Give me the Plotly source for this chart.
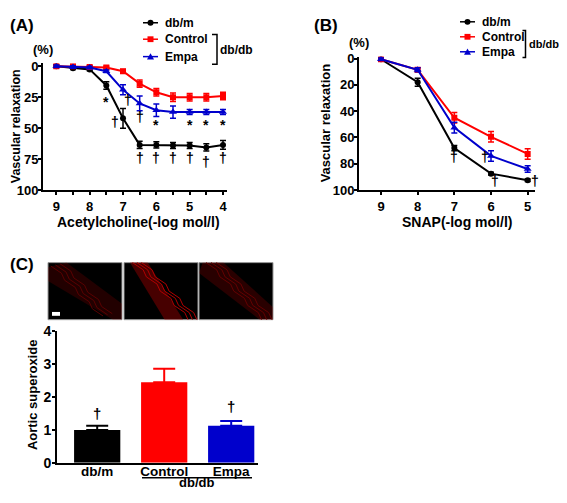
import plotly.graph_objects as go

# the page keeps an 8px body margin round the figure, so the figure is
# drawn 16px smaller and reference pixel positions are shifted by 8px
OFF = 8
FW, FH = 567 - 2 * OFF, 503 - 2 * OFF


def px(x):
    return (x - OFF) / FW


def py(y):
    return 1 - (y - OFF) / FH


# ---- data ----
# (A) acetylcholine
ach_dose = [9, 8.5, 8, 7.5, 7, 6.5, 6, 5.5, 5, 4.5, 4]
ach_dbm = [0, 1.5, 2.5, 15.5, 42, 63.5, 63.5, 64, 64, 65.5, 63.5]
ach_dbm_err = [1, 1, 1, 3, 8, 3, 2.5, 2.5, 2.5, 3, 3.5]
ach_ctrl = [0, 0, 0.5, 1, 4, 14, 21, 25, 25, 25, 24]
ach_ctrl_err = [1, 1, 1, 1, 1.5, 3, 3, 3.5, 3, 3, 3]
ach_empa = [0, 0.5, 1, 4, 19, 30, 35.5, 37, 37, 37, 37]
ach_empa_err = [1, 1, 1, 1, 4, 6, 5, 5, 2, 2, 2]
ach_ticks = ["9", "", "8", "", "7", "", "6", "", "5", "", "4"]
ach_marks = [(7.5, 28.5, "*"), (7.23, 45, "†"), (6.85, 27, "†"), (6.5, 41, "†"),
             (6, 47.5, "*"), (5, 47.5, "*"), (4.5, 47.5, "*"), (4, 47.5, "*"),
             (6.5, 74, "†"), (6, 74, "†"), (5.5, 74, "†"), (5, 74, "†"),
             (4.5, 77, "†"), (4, 74, "†")]

# (B) SNAP
snap_dose = [9, 8, 7, 6, 5]
snap_dbm = [0.5, 18, 68, 87.5, 92.5]
snap_dbm_err = [1, 3, 2, 1, 1]
snap_ctrl = [0.5, 8.5, 45, 59.5, 72.5]
snap_ctrl_err = [1, 1.5, 4, 4, 4]
snap_empa = [0.5, 8.5, 52.5, 74, 84]
snap_empa_err = [1, 1.5, 4, 4, 2.5]
snap_marks = [(7, 75, "†"), (6.17, 75, "†"), (5.9, 93, "†"), (4.8, 93, "†")]

# (C) aortic superoxide
groups = ["db/m", "Control", "Empa"]
superoxide = [1.0, 2.45, 1.13]
superoxide_err = [0.13, 0.41, 0.14]
bar_marks = [("db/m", 1.5, "†"), ("Empa", 1.7, "†")]

BLACK, RED, BLUE = "#000000", "#ff0000", "#0000cc"
series_style = [("db/m", BLACK, "circle", 6), ("Control", RED, "square", 6),
                ("Empa", BLUE, "triangle-up", 7)]

fig = go.Figure()

for (name, col, sym, ms), y, e in zip(series_style, [ach_dbm, ach_ctrl, ach_empa],
                                      [ach_dbm_err, ach_ctrl_err, ach_empa_err]):
    fig.add_trace(go.Scatter(
        x=ach_dose, y=y, name=name, mode="lines+markers",
        line=dict(color=col, width=2), marker=dict(color=col, symbol=sym, size=ms),
        error_y=dict(type="data", array=e, color=col, thickness=1.5, width=3),
        xaxis="x", yaxis="y"))

for (name, col, sym, ms), y, e in zip(series_style, [snap_dbm, snap_ctrl, snap_empa],
                                      [snap_dbm_err, snap_ctrl_err, snap_empa_err]):
    fig.add_trace(go.Scatter(
        x=snap_dose, y=y, name=name, mode="lines+markers",
        line=dict(color=col, width=2), marker=dict(color=col, symbol=sym, size=ms),
        error_y=dict(type="data", array=e, color=col, thickness=1.5, width=3),
        xaxis="x2", yaxis="y2"))

for g, v, e, col in zip(groups, superoxide, superoxide_err, [BLACK, RED, BLUE]):
    fig.add_trace(go.Bar(
        x=[g], y=[v], width=0.69, marker=dict(color=col, line_width=0),
        error_y=dict(type="data", array=[e], arrayminus=[0], symmetric=False,
                     color=col, thickness=2, width=11),
        xaxis="x3", yaxis="y3"))

axis_common = dict(showline=True, linecolor="black", linewidth=2, ticks="outside",
                   ticklen=3, tickwidth=2, tickcolor="black", showgrid=False,
                   zeroline=False, tickfont=dict(size=13))

fig.update_layout(
    width=FW, height=FH, margin=dict(l=0, r=0, t=0, b=0),
    paper_bgcolor="white", plot_bgcolor="white",
    font=dict(family="Liberation Sans", size=12, color="black", weight="bold"),
    barmode="overlay", showlegend=False,
    xaxis=dict(axis_common, domain=[px(43), px(227)], range=[9.4, 3.88],
               tickvals=ach_dose, ticktext=ach_ticks, anchor="y"),
    yaxis=dict(axis_common, domain=[py(188), py(56.8)], range=[100, -2.5],
               tickvals=[0, 25, 50, 75, 100], ticklabelstandoff=-3, anchor="x"),
    xaxis2=dict(axis_common, domain=[px(359), px(535)], range=[9.6, 4.8],
                tickvals=snap_dose, anchor="y2"),
    yaxis2=dict(axis_common, domain=[py(188), py(50)], range=[100, -1.5],
                tickvals=[0, 20, 40, 60, 80, 100], ticklabelstandoff=-3, anchor="x2"),
    xaxis3=dict(axis_common, domain=[px(57), px(258)], range=[-0.6, 2.4],
                ticks="", tickfont=dict(size=13.5), ticklabelstandoff=-5,
                anchor="y3"),
    yaxis3=dict(axis_common, domain=[py(470), py(334)], range=[0, 4],
                tickvals=[0, 1, 2, 3, 4], tickfont=dict(size=14),
                ticklabelstandoff=-2, anchor="x3"),
)

ann = []
for x, y, t in ach_marks:
    ann.append(dict(x=x, y=y, text=t, xref="x", yref="y", showarrow=False, font=dict(size=14)))
for x, y, t in snap_marks:
    ann.append(dict(x=x, y=y, text=t, xref="x2", yref="y2", showarrow=False, font=dict(size=14)))
for x, y, t in bar_marks:
    ann.append(dict(x=x, y=y, text=t, xref="x3", yref="y3", showarrow=False, font=dict(size=15)))

# free texts: text, x, y (reference pixels), size, x anchor, angle
labels = [("(A)", 8, 18, 17, "left", 0), ("(B)", 326, 18, 17, "center", 0),
          ("(C)", 8, 265, 17, "left", 0),
          ("(%)", 43, 43, 13, "center", 0), ("(%)", 359, 35, 13, "center", 0),
          ("Vascular relaxation", 16, 122, 12.5, "center", -90),
          ("Vascular relaxation", 325, 119, 13, "center", -90),
          ("Aortic superoxide", 32, 400, 13, "center", -90),
          ("Acetylcholine(-log mol/l)", 138, 221, 14, "center", 0),
          ("SNAP(-log mol/l)", 457, 221, 14, "center", 0),
          ("db/db", 218, 43, 12, "left", 0), ("db/db", 527, 37, 11, "left", 0),
          ("db/db", 196, 490.5, 13, "center", 0)]
for t, x, y, s, xa, ang in labels:
    ann.append(dict(x=px(x), y=py(y), text=t, xref="paper", yref="paper",
                    xanchor=xa, yanchor="middle", textangle=ang,
                    showarrow=False, font=dict(size=s)))

shapes = []

# hand-made legends (line + marker + label) and db/db brackets
legend_rows = [(143, 163, [15, 32, 50], 217, 5, 27, 58),
               (460, 480, [14, 29.5, 45], 525.5, 3, 23, 51)]
for lx, tx, rows, bx, stub, by0, by1 in legend_rows:
    for (name, col, sym, ms), ry in zip(series_style, rows):
        shapes.append(dict(type="line", xref="paper", yref="paper",
                           x0=px(lx), x1=px(lx + 15), y0=py(ry), y1=py(ry),
                           line=dict(color=col, width=1.5)))
        cx = lx + 7.5
        if sym == "circle":
            shapes.append(dict(type="circle", xref="paper", yref="paper",
                               x0=px(cx - 3), x1=px(cx + 3), y0=py(ry + 3), y1=py(ry - 3),
                               fillcolor=col, line=dict(width=0)))
        elif sym == "square":
            shapes.append(dict(type="rect", xref="paper", yref="paper",
                               x0=px(cx - 3), x1=px(cx + 3), y0=py(ry + 3), y1=py(ry - 3),
                               fillcolor=col, line=dict(width=0)))
        else:
            shapes.append(dict(type="path", xref="paper", yref="paper",
                               path=f"M {px(cx - 3.5)},{py(ry + 3)} L {px(cx + 3.5)},{py(ry + 3)} "
                                    f"L {px(cx)},{py(ry - 3.5)} Z",
                               fillcolor=col, line=dict(width=0)))
        ann.append(dict(x=px(tx), y=py(ry), text=name, xref="paper", yref="paper",
                        xanchor="left", yanchor="middle", showarrow=False,
                        font=dict(size=12)))
    shapes.append(dict(type="path", xref="paper", yref="paper",
                       path=f"M {px(bx - stub)},{py(by0)} L {px(bx)},{py(by0)} "
                            f"L {px(bx)},{py(by1)} L {px(bx - stub)},{py(by1)}",
                       line=dict(color="black", width=1.5)))

# underline under Control / Empa
shapes.append(dict(type="line", xref="paper", yref="paper", x0=px(142), x1=px(252),
                   y0=py(485.5), y1=py(485.5), line=dict(color="black", width=1.5)))

# micrographs (decorative): dark frames with a faint red vessel wall band
panels = [(48, 122, 0.2, "#5a0000",
           [(0, 0.08), (0.25, 0), (1, 0.72), (1, 1), (0.88, 1), (0, 0.32)]),
          (124, 198, 0.42, "#b00000", [(0.08, 0), (0.32, 0), (0.8, 1), (0.55, 1)]),
          (199, 273, 0.24, "#640000",
           [(0.05, 0), (0.33, 0), (1, 0.78), (1, 1), (0.82, 1), (0, 0.18)])]
top, bot = 263, 322
for x0, x1, op, fib, poly in panels:
    shapes.append(dict(type="rect", xref="paper", yref="paper", x0=px(x0), x1=px(x1),
                       y0=py(bot), y1=py(top), fillcolor="black",
                       line=dict(color="#9a9a9a", width=1)))
    pts = [(px(x0 + u * (x1 - x0)), py(top + v * (bot - top))) for u, v in poly]
    path = "M " + " L ".join(f"{a},{b}" for a, b in pts) + " Z"
    shapes.append(dict(type="path", xref="paper", yref="paper", path=path,
                       fillcolor=f"rgba(170,0,0,{op})", line=dict(width=0)))
    a, b = poly[0], poly[1]
    for k in range(3):
        f = 0.25 + 0.25 * k
        sx = a[0] + (b[0] - a[0]) * f
        sy = a[1] + (b[1] - a[1]) * f
        pts2 = []
        for j in range(9):
            t = j / 8
            u = sx + t * 0.75 + (0.025 if j % 2 else -0.025)
            v = sy + t * 1.0
            if u > 1 or v > 1:
                break
            pts2.append((px(x0 + u * (x1 - x0)), py(top + v * (bot - top))))
        if len(pts2) > 1:
            shapes.append(dict(type="path", xref="paper", yref="paper",
                               path="M " + " L ".join(f"{p},{q}" for p, q in pts2),
                               line=dict(color=fib, width=1)))
# scale bar
shapes.append(dict(type="rect", xref="paper", yref="paper", x0=px(52), x1=px(60),
                   y0=py(318), y1=py(314), fillcolor="white", line=dict(width=0)))

fig.update_layout(annotations=ann, shapes=shapes)

fig.write_html("out.html")
